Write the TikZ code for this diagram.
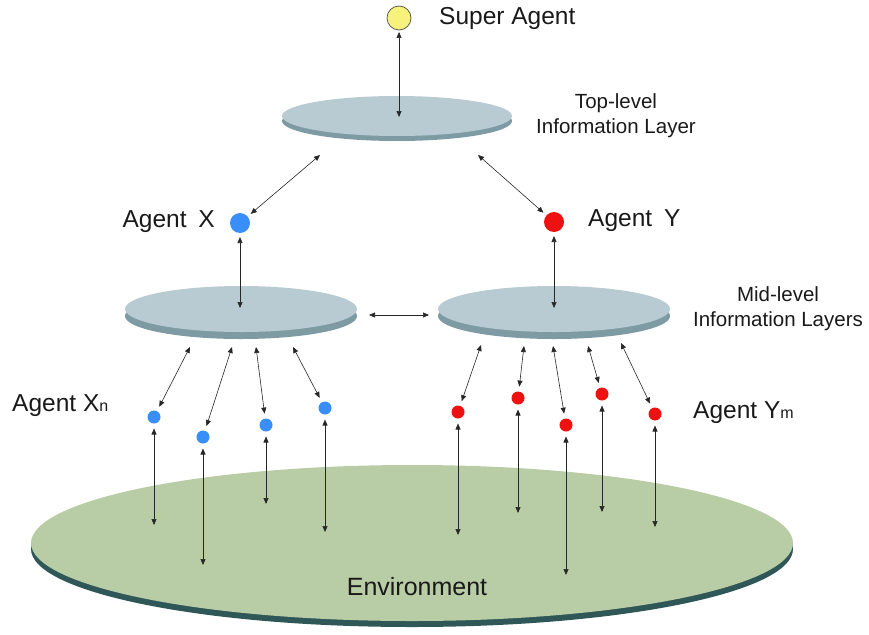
\documentclass[tikz,border=0pt]{standalone}
\usepackage{fontspec}
\setmainfont{Liberation Sans}
\usetikzlibrary{arrows.meta,shapes.geometric}

\definecolor{layertop}{HTML}{B8CBD2}
\definecolor{layerside}{HTML}{7E9BA4}
\definecolor{envtop}{HTML}{B8CDA5}
\definecolor{envside}{HTML}{2F5757}
\definecolor{agblue}{HTML}{3A8EF8}
\definecolor{agred}{HTML}{EE1111}
\definecolor{agyellow}{HTML}{F6F27C}

\tikzset{
  link/.style={{Triangle[length=6pt,width=5pt]}-{Triangle[length=6pt,width=5pt]},
               line width=0.6pt, draw=black!85},
  layersurf/.style={ellipse, fill=layertop, inner sep=0pt},
  envsurf/.style={ellipse, fill=envtop, inner sep=0pt},
  bigagent/.style={circle, inner sep=0pt, minimum size=20pt, outer sep=4pt, fill=#1},
  smallagent/.style={circle, inner sep=0pt, minimum size=13pt, outer sep=5pt, fill=#1},
  biglabel/.style={font=\fontsize{24.5}{28}\selectfont, inner sep=0pt, text=black!90},
  layerlabel/.style={font=\fontsize{20.5}{25}\selectfont, align=center, inner sep=0pt, text=black!90},
}

\begin{document}
\begin{tikzpicture}[x=1pt, y=-1pt]
\useasboundingbox (0,0) rectangle (869,634);

% ---- environment disk ----
\fill[envside] (412,549) ellipse [x radius=381pt, y radius=78pt];
\node[envsurf, minimum width=762pt, minimum height=156pt] (env) at (412,543) {};
\node[font=\fontsize{25}{28}\selectfont, inner sep=0pt, text=black!90] (envlabel) at (417,587) {Environment};

% ---- information layers ----
\fill[layerside] (397,121) ellipse [x radius=115pt, y radius=20pt];
\node[layersurf, minimum width=230pt, minimum height=40pt] (top) at (397,116) {};

\fill[layerside] (241,316) ellipse [x radius=116pt, y radius=23pt];
\node[layersurf, minimum width=232pt, minimum height=46pt] (midL) at (241,309) {};

\fill[layerside] (554,316) ellipse [x radius=116pt, y radius=23pt];
\node[layersurf, minimum width=232pt, minimum height=46pt] (midR) at (554,309) {};

% ---- agents ----
\node[circle, inner sep=0pt, minimum size=24pt, outer sep=2pt,
      fill=agyellow, draw=black!70, line width=0.7pt] (super) at (399,18) {};
\node[bigagent=agblue] (AX) at (240,223) {};
\node[bigagent=agred]  (AY) at (554,222) {};

\node[smallagent=agblue] (X1) at (154,417) {};
\node[smallagent=agblue] (X2) at (203,437) {};
\node[smallagent=agblue] (X3) at (266,425) {};
\node[smallagent=agblue] (X4) at (325,408) {};

\node[smallagent=agred] (Y1) at (458,412) {};
\node[smallagent=agred] (Y2) at (518,398) {};
\node[smallagent=agred] (Y3) at (566,425) {};
\node[smallagent=agred] (Y4) at (602,394) {};
\node[smallagent=agred] (Y5) at (655,414) {};

% ---- labels ----
\node[biglabel, anchor=west] (lsuper) at (439,18) {Super Agent};
\node[biglabel, anchor=east] (lax) at (215,222) {Agent\hspace{5pt} X};
\node[biglabel, anchor=west] (lay) at (588,221) {Agent\hspace{5pt} Y};
\node[biglabel, anchor=west] (lxn) at (12,406) {Agent X{\fontsize{16}{16}\selectfont n}};
\node[biglabel, anchor=west] (lym) at (693,413) {Agent Y{\fontsize{16}{16}\selectfont m}};
\node[layerlabel] (ltop) at (616,116) {Top-level\\Information Layer};
\node[layerlabel] (lmid) at (778,309) {Mid-level\\Information Layers};

% ---- connector end points on the layers ----
\coordinate (t0) at (399,117);
\coordinate (tL) at (320,155);
\coordinate (tR) at (478,155);
\coordinate (mL0) at (240,308);
\coordinate (mR0) at (554,308);
\coordinate (hL) at (369,315);
\coordinate (hR) at (429,315);

\coordinate (mx1) at (190,347);
\coordinate (mx2) at (232,347);
\coordinate (mx3) at (256,347);
\coordinate (mx4) at (293,347);

\coordinate (my1) at (481,345);
\coordinate (my2) at (524,346);
\coordinate (my3) at (553,346);
\coordinate (my4) at (588,346);
\coordinate (my5) at (621,343);

% ---- connector end points on the environment ----
\coordinate (ex1) at (154,525);
\coordinate (ex2) at (203,565);
\coordinate (ex3) at (266,504);
\coordinate (ex4) at (325,532);
\coordinate (ey1) at (458,535);
\coordinate (ey2) at (518,513);
\coordinate (ey3) at (566,575);
\coordinate (ey4) at (602,512);
\coordinate (ey5) at (655,527);

% ---- connectors ----
\draw[link] (super) -- (t0);
\draw[link] (tL) -- (AX);
\draw[link] (tR) -- (AY);
\draw[link] (AX) -- (mL0);
\draw[link] (AY) -- (mR0);
\draw[link] (hL) -- (hR);

\draw[link] (mx1) -- (X1);
\draw[link] (mx2) -- (X2);
\draw[link] (mx3) -- (X3);
\draw[link] (mx4) -- (X4);

\draw[link] (my1) -- (Y1);
\draw[link] (my2) -- (Y2);
\draw[link] (my3) -- (Y3);
\draw[link] (my4) -- (Y4);
\draw[link] (my5) -- (Y5);

\draw[link] (X1) -- (ex1);
\draw[link] (X2) -- (ex2);
\draw[link] (X3) -- (ex3);
\draw[link] (X4) -- (ex4);
\draw[link] (Y1) -- (ey1);
\draw[link] (Y2) -- (ey2);
\draw[link] (Y3) -- (ey3);
\draw[link] (Y4) -- (ey4);
\draw[link] (Y5) -- (ey5);
\end{tikzpicture}
\end{document}
